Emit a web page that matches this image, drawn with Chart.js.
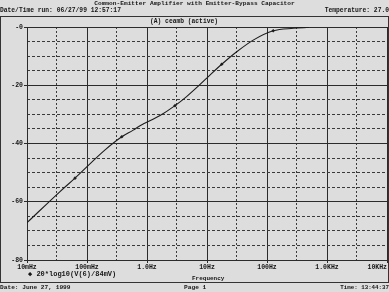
<!DOCTYPE html>
<html>
<head>
<meta charset="utf-8">
<script src="https://cdn.jsdelivr.net/npm/chart.js@4.4.1/dist/chart.umd.min.js"></script>
<style>
  html, body { margin: 0; padding: 0; background: #dddddd; }
  #wrap { position: relative; width: 389px; height: 292px; overflow: hidden;
          font-family: "Liberation Mono", "DejaVu Sans Mono", monospace; font-weight: bold; color: #151515; }
  #wrap canvas { position: absolute; left: 0; top: 0; }
  .t { position: absolute; white-space: pre; line-height: 1; }
  #frame { position: absolute; left: 0; top: 16px; width: 387px; height: 265px;
           border: 1px solid #333; }
</style>
</head>
<body>
<div id="wrap">
  <div id="frame"></div>
  <canvas id="grafik" width="389" height="292"></canvas>
  <div class="t" style="left:0;width:389px;text-align:center;top:1px;font-size:6.2px;">Common-Emitter Amplifier with Emitter-Bypass Capacitor</div>
  <div class="t" style="left:0;top:8px;font-size:6.3px;">Date/Time run: 06/27/99 12:57:17</div>
  <div class="t" style="right:0;top:8px;font-size:6.3px;">Temperature: 27.0</div>
  <div class="t" style="left:150px;top:19px;font-size:6.3px;">(A) ceamb (active)</div>
  <div class="t" style="left:28px;top:271px;font-size:7px;">&#9670; 20*log10(V(6)/84mV)</div>
  <div class="t" style="left:192px;top:276px;font-size:6px;">Frequency</div>
  <div class="t" style="left:0;top:285px;font-size:6.2px;">Date: June 27, 1999</div>
  <div class="t" style="left:184px;top:285px;font-size:6.2px;">Page 1</div>
  <div class="t" style="right:0;top:285px;font-size:5.8px;">Time: 13:44:37</div>
</div>
<script>
// data
const frekuensi = [0.01, 0.0355, 0.0631, 0.2, 0.38, 0.589, 0.764, 1.65, 2.93, 4.57, 7.16,
                   11.2, 17.6, 31.3, 58.9, 127, 275, 501];
const gainDb = [-67.2, -56.5, -51.9, -42.2, -37.7, -35.4, -33.9, -30.4, -27.0, -23.9, -20.3,
                -16.5, -12.8, -8.5, -4.5, -1.3, -0.45, -0.1];
const titikPenanda = [2, 4, 8, 12, 15];

const tickDekade = [0.01, 0.1, 1, 10, 100, 1000, 10000];
const labelDekade = ["10mHz", "100mHz", "1.0Hz", "10Hz", "100Hz", "1.0KHz", "10KHz     "];
const tickSetengah = [0.0316, 0.316, 3.16, 31.6, 316, 3162];
const tickDbUtama = [-80, -60, -40, -20, 0];
const tickDbKecil = [-75, -70, -65, -55, -50, -45, -35, -30, -25, -15, -10, -5];

const hurufKecil = { family: "'Liberation Mono', monospace", size: 6.5, weight: "bold" };
const warnaGaris = "#2b2b2b";

const nolPadding = (s) => { s.paddingLeft = 0; s.paddingRight = 0; s.paddingTop = 0; s.paddingBottom = 0; };

new Chart(document.getElementById("grafik"), {
  type: "line",
  data: {
    datasets: [{
      data: frekuensi.map((f, i) => ({ x: f, y: gainDb[i] })),
      borderColor: "#1c1c1c",
      borderWidth: 1.1,
      cubicInterpolationMode: "monotone",
      pointStyle: "rectRot",
      pointRadius: frekuensi.map((_, i) => (titikPenanda.includes(i) ? 1.8 : 0)),
      pointBackgroundColor: "#1c1c1c",
      pointBorderWidth: 0,
    }],
  },
  options: {
    responsive: false,
    animation: false,
    layout: { padding: { top: 27, right: 2, left: 0, bottom: 0 } },
    plugins: { legend: { display: false }, tooltip: { enabled: false } },
    scales: {
      x: {
        type: "logarithmic", min: 0.01, max: 10000,
        afterBuildTicks: (s) => { s.ticks = tickDekade.map((v) => ({ value: v })); },
        afterFit: (s) => { s.height = 32; nolPadding(s); },
        ticks: {
          autoSkip: false, maxRotation: 0, padding: 0, color: "#151515", font: hurufKecil,
          callback: (v) => labelDekade[tickDekade.indexOf(v)] ?? "",
        },
        grid: { color: warnaGaris, lineWidth: 1, tickLength: 3, tickColor: warnaGaris },
        border: { color: warnaGaris, width: 1 },
      },
      x2: {
        type: "logarithmic", min: 0.01, max: 10000, position: "bottom",
        afterBuildTicks: (s) => { s.ticks = tickSetengah.map((v) => ({ value: v })); },
        afterFit: (s) => { s.height = 0; nolPadding(s); },
        ticks: { display: false },
        grid: { color: "#3a3a3a", lineWidth: 1, drawTicks: false },
        border: { display: false, dash: [2, 2] },
      },
      y: {
        type: "linear", min: -80, max: 0,
        afterBuildTicks: (s) => { s.ticks = tickDbUtama.map((v) => ({ value: v })); },
        afterFit: (s) => { s.width = 27; nolPadding(s); },
        ticks: {
          padding: 1, color: "#151515", font: hurufKecil,
          callback: (v) => (v === 0 ? "-0" : String(v)),
        },
        grid: { color: warnaGaris, lineWidth: 1, tickLength: 3, tickColor: warnaGaris },
        border: { color: warnaGaris, width: 1 },
      },
      y2: {
        type: "linear", min: -80, max: 0, position: "left",
        afterBuildTicks: (s) => { s.ticks = tickDbKecil.map((v) => ({ value: v })); },
        afterFit: (s) => { s.width = 0; nolPadding(s); },
        ticks: { display: false },
        grid: { color: "#3a3a3a", lineWidth: 1, drawTicks: false },
        border: { display: false, dash: [3, 2] },
      },
    },
  },
});
</script>
</body>
</html>
